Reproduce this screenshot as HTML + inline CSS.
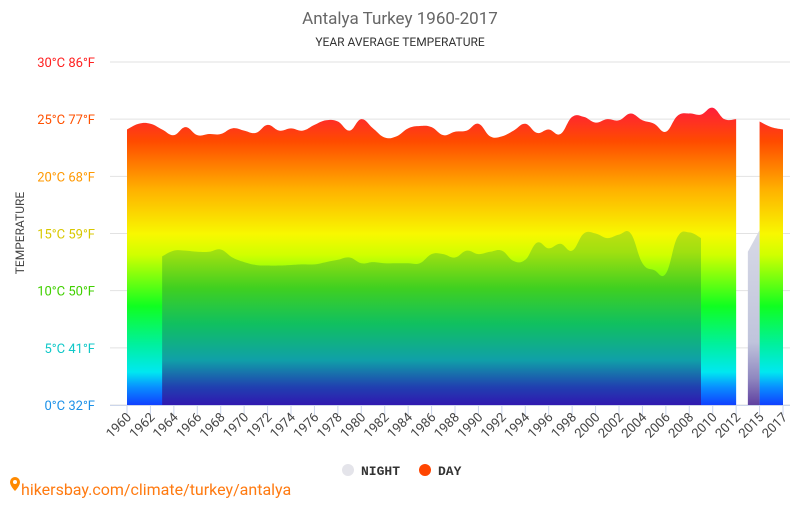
<!DOCTYPE html>
<html><head><meta charset="utf-8"><style>
body{margin:0;background:#fff;font-family:"Liberation Sans",sans-serif}
svg text{font-family:"Roboto","Liberation Sans",sans-serif}
</style></head><body>
<svg id="c" width="800" height="500" xmlns="http://www.w3.org/2000/svg">
<defs>
<linearGradient id="gday" gradientUnits="userSpaceOnUse" x1="0" y1="405" x2="0" y2="105">
<stop offset="0" stop-color="#1040ff"/><stop offset="0.06" stop-color="#0890ff"/><stop offset="0.11" stop-color="#00e8f0"/>
<stop offset="0.2" stop-color="#00f0a0"/><stop offset="0.33" stop-color="#10ff20"/><stop offset="0.5" stop-color="#d0ff00"/>
<stop offset="0.57" stop-color="#f8f800"/><stop offset="0.72" stop-color="#ffb000"/><stop offset="0.88" stop-color="#ff4a00"/><stop offset="1" stop-color="#ff1a40"/>
</linearGradient>
<linearGradient id="gnight" gradientUnits="userSpaceOnUse" x1="0" y1="405" x2="0" y2="225">
<stop offset="0" stop-color="#3018b0"/><stop offset="0.1" stop-color="#2040b0"/><stop offset="0.25" stop-color="#10a0a8"/>
<stop offset="0.45" stop-color="#10c060"/><stop offset="0.65" stop-color="#40d020"/><stop offset="0.85" stop-color="#a0e010"/><stop offset="1" stop-color="#c8e010"/>
</linearGradient>
<linearGradient id="ggrey" gradientUnits="userSpaceOnUse" x1="0" y1="405" x2="0" y2="225">
<stop offset="0" stop-color="#6040a0"/><stop offset="0.15" stop-color="#9088c0"/><stop offset="0.35" stop-color="#c0c4dc"/><stop offset="1" stop-color="#d8dae6"/>
</linearGradient>
</defs>
<text x="400" y="24" text-anchor="middle" font-size="17" fill="#666">Antalya Turkey 1960-2017</text>
<text x="400" y="46" text-anchor="middle" font-size="12" fill="#333">YEAR AVERAGE TEMPERATURE</text>
<text transform="translate(24,233) rotate(-90)" text-anchor="middle" font-size="12" fill="#444">TEMPERATURE</text>
<g id="grid"></g><g id="areas"></g><g id="axes"></g>
<g>
<g><circle cx="348" cy="470" r="6" fill="#e4e4ea"/><text x="361" y="475" font-size="13" font-weight="bold" fill="#333" style="font-family:'Liberation Mono',monospace">NIGHT</text></g>
<g><circle cx="425" cy="470" r="6" fill="#ff4500"/><text x="438" y="475" font-size="13" font-weight="bold" fill="#333" style="font-family:'Liberation Mono',monospace">DAY</text></g>
</g>
<g>
<path d="M10 482a5 5 0 0 1 10 0c0 4-5 9-5 9s-5-5-5-9z" fill="#ff8a00"/><circle cx="15" cy="482" r="2" fill="#fff"/>
<text x="21" y="495" font-size="16" fill="#ff7a10">hikersbay.com/climate/turkey/antalya</text>
</g>
</svg>
<script>
const categories=[];for(let y=1960;y<=2012;y++)categories.push(String(y));categories.push("2014","2015","2016","2017");
const dayValues=[24.1,24.6,24.6,24.1,23.6,24.3,23.6,23.7,23.7,24.2,24.0,23.8,24.5,24.0,24.2,24.0,24.5,24.9,24.8,24.0,25.0,24.2,23.4,23.5,24.2,24.4,24.3,23.6,23.9,24.0,24.6,23.5,23.5,24.0,24.6,23.8,24.1,23.7,25.2,25.2,24.7,25.0,24.9,25.5,24.9,24.6,23.9,25.3,25.5,25.4,26.0,25.0,25.0,null,24.8,24.3,24.1];
const nightValues=[null,null,null,13.0,13.5,13.5,13.4,13.4,13.6,12.9,12.5,12.25,12.2,12.2,12.25,12.3,12.3,12.5,12.7,12.9,12.4,12.5,12.4,12.4,12.4,12.4,13.2,13.2,12.9,13.5,13.2,13.4,13.5,12.6,12.7,14.2,13.7,14.1,13.5,15.0,15.0,14.6,14.9,15.0,12.4,11.8,11.5,14.7,15.1,14.6,null,null,null,13.4,15.3,null,null];
const yTicks=[0,5,10,15,20,25,30];
const yTickLabels=["0°C 32°F","5°C 41°F","10°C 50°F","15°C 59°F","20°C 68°F","25°C 77°F","30°C 86°F"];
const yTickColors=["#1a90e8","#10c8c8","#40d000","#d8c800","#ff9800","#ff5000","#ff2020"];
const NS="http://www.w3.org/2000/svg";
const X0=127,X1=783,Y0=405,YS=(405-62)/30;
const xs=i=>X0+i*(X1-X0)/(categories.length-1);
const ys=v=>Y0-v*YS;
function mk(t,a,p){const e=document.createElementNS(NS,t);for(const k in a)e.setAttribute(k,a[k]);p.appendChild(e);return e;}
const grid=document.getElementById('grid'),axes=document.getElementById('axes'),areas=document.getElementById('areas');
yTicks.forEach((v,i)=>{
 const l=mk('line',{x1:110,x2:790,y1:ys(v),y2:ys(v),stroke:'#e2e2e2'},grid);
 
 
 const t=mk('text',{x:95,y:ys(v)+5,'text-anchor':'end','font-size':13,fill:yTickColors[i]},axes);
 t.textContent=yTickLabels[i];
 
 
});
mk('line',{x1:110,x2:790,y1:405.5,y2:405.5,stroke:'#ccd6eb'},axes);
categories.forEach((c,i)=>{
 const x=xs(i);
 const show=(+c<=2012&&(+c)%2===0)||c==="2015"||c==="2017";
 if(!show)return;
 mk('line',{x1:x,x2:x,y1:405,y2:415,stroke:'#ccd6eb'},axes);
 const t=mk('text',{transform:`translate(${x+5},${418}) rotate(-45)`,'text-anchor':'end','font-size':13,fill:'#444'},axes);
 t.textContent=c;
 
 
});
function segments(vals){const s=[];let cur=[];vals.forEach((v,i)=>{if(v==null){if(cur.length)s.push(cur);cur=[];}else cur.push([xs(i),ys(v)]);});if(cur.length)s.push(cur);return s;}
function curve(p){let d=`M${p[0][0]},${p[0][1]}`;for(let i=0;i<p.length-1;i++){const a=p[i-1]||p[i],b=p[i],c=p[i+1],e=p[i+2]||c;const t=0.2;d+=`C${b[0]+(c[0]-a[0])*t},${b[1]+(c[1]-a[1])*t} ${c[0]-(e[0]-b[0])*t},${c[1]-(e[1]-b[1])*t} ${c[0]},${c[1]}`;}return d;}
function area(p){return curve(p)+`L${p[p.length-1][0]},${Y0}L${p[0][0]},${Y0}Z`;}
segments(dayValues).forEach(s=>{
 const p=mk('path',{d:area(s),fill:'url(#gday)'},areas);
 
 
});
segments(nightValues).forEach(s=>{
 const lateOnly=s[0][0]>xs(categories.indexOf("2012"));
 const p=mk('path',{d:area(s),fill:lateOnly?'url(#ggrey)':'url(#gnight)'},areas);
 
 
});
</script>
</body></html>
